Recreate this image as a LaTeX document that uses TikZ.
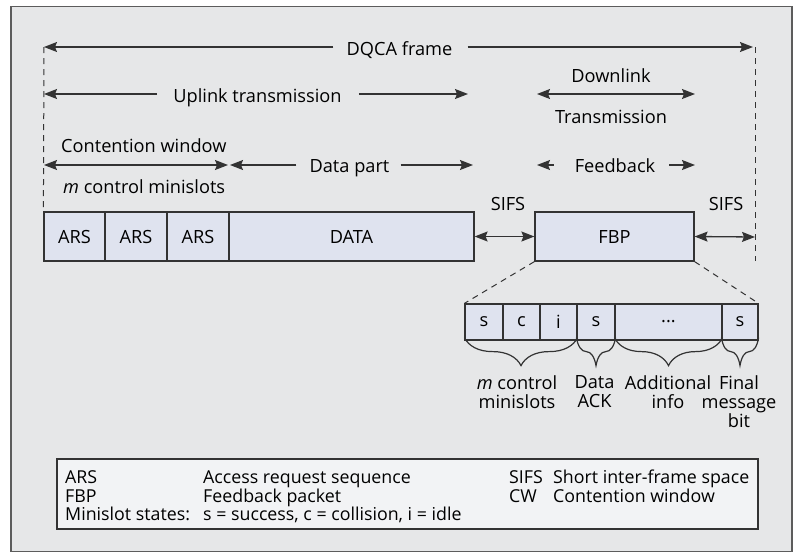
\documentclass[tikz,border=0pt]{standalone}
\usepackage{fontspec}
\setmainfont{Open Sans}
\usetikzlibrary{arrows.meta,decorations.pathreplacing}
\definecolor{bgc}{HTML}{E6E7E8}
\definecolor{boxc}{HTML}{DFE3EF}
\definecolor{legc}{HTML}{F2F3F5}
\definecolor{ink}{HTML}{333333}
\tikzset{
  lbl/.style={font=\fontsize{18.2}{19}\selectfont, inner sep=0pt, text=black, anchor=base},
  arr/.style={draw=ink, line width=1.3pt, -{Stealth[length=13pt,width=10pt,inset=2pt]}},
  darr/.style={draw=ink, line width=1.3pt, {Stealth[length=13pt,width=10pt,inset=2pt]}-{Stealth[length=13pt,width=10pt,inset=2pt]}},
  slot/.style={draw=ink, line width=1.2pt, fill=boxc, inner sep=0pt, font=\fontsize{18.2}{19}\selectfont},
  dashline/.style={draw=ink, line width=1pt, dash pattern=on 6pt off 5pt},
  brc/.style={draw=ink, line width=1.2pt, decorate, decoration={brace, amplitude=28pt, mirror}},
  blbl/.style={font=\fontsize{18.2}{19}\selectfont, inner sep=0pt, align=center, anchor=north},
  leg/.style={font=\fontsize{17.8}{18.5}\selectfont, inner sep=0pt, anchor=base west}
}
\begin{document}
\begin{tikzpicture}[x=1pt,y=-1pt]
\useasboundingbox (0,0) rectangle (797,552);
\node[draw=ink!80, line width=1.2pt, fill=bgc, minimum width=781pt, minimum height=545pt, inner sep=0pt] (frame) at (401.5,279) {};

% frame boundaries (dashed)
\coordinate (dL) at (44,47);
\coordinate (dR) at (755,47);
\coordinate (dRb) at (755,261);
\coordinate (sifsR) at (755,237);

% top row
\node[lbl] (dqca) at (399.5,55) {DQCA frame};
\draw[arr] ([xshift=-13pt]dqca.west |- dL) -- (dL);
\draw[arr] ([xshift=15pt]dqca.east |- dL) -- ([xshift=-2pt]dR);

% uplink
\coordinate (upL) at (44,94);
\coordinate (upR) at (468,94);
\node[lbl] (up) at (257.5,102) {Uplink transmission};
\draw[arr] ([xshift=-16pt]up.west |- upL) -- (upL);
\draw[arr] ([xshift=17pt]up.east |- upL) -- (upR);

% downlink
\node[lbl] (down) at (611,82) {Downlink};
\coordinate (dnL) at (537,94);
\coordinate (dnR) at (695,94);
\draw[darr] (dnL) -- (dnR);
\node[lbl] (trans) at (611,123) {Transmission};

% contention window
\node[lbl, anchor=base west] (cw) at (61,152) {Contention window};
\coordinate (cwL) at (44,165);
\coordinate (cwR) at (228,165);
\draw[darr] (cwL) -- (cwR);
\node[lbl, anchor=base west] (mcm) at (63,193) {\textit{m} control minislots};

% data part
\coordinate (dpL) at (230,165);
\coordinate (dpR) at (473,165);
\node[lbl] (dp) at (349.5,172) {Data part};
\draw[arr] ([xshift=-13pt]dp.west |- dpL) -- (dpL);
\draw[arr] ([xshift=11pt]dp.east |- dpL) -- (dpR);

% feedback
\coordinate (fbL) at (537,165);
\coordinate (fbR) at (695,165);
\node[lbl] (fb) at (615,172) {Feedback};
\draw[arr] ([xshift=-21pt]fb.west |- fbL) -- (fbL);
\draw[arr] ([xshift=14pt]fb.east |- fbL) -- (fbR);

% frame boxes
\node[slot, minimum width=61pt, minimum height=49pt] (a1) at (74.5,236.5) {ARS};
\node[slot, minimum width=62pt, minimum height=49pt] (a2) at (136,236.5) {ARS};
\node[slot, minimum width=62pt, minimum height=49pt] (a3) at (198,236.5) {ARS};
\node[slot, minimum width=245pt, minimum height=49pt] (data) at (351.5,236.5) {DATA};
\node[slot, minimum width=159pt, minimum height=49pt] (fbp) at (614.5,236.5) {FBP};

% dashed boundaries
\draw[dashline] (dL) -- (a1.north west);
\draw[dashline] (dR) -- (dRb);

% SIFS
\node[lbl] (sifs1) at (508,210) {SIFS};
\node[lbl] (sifs2) at (726,210) {SIFS};
\draw[darr] (data.east) -- (fbp.west);
\draw[darr] (fbp.east) -- (sifsR);

% small slots
\node[slot, minimum width=38pt, minimum height=36pt] (s1) at (484,322) {s};
\node[slot, minimum width=37pt, minimum height=36pt] (s2) at (521.5,322) {c};
\node[slot, minimum width=37pt, minimum height=36pt] (s3) at (558.5,322) {i};
\node[slot, minimum width=38pt, minimum height=36pt] (s4) at (596,322) {s};
\node[slot, minimum width=107pt, minimum height=36pt] (s5) at (668.5,322) {...};
\node[slot, minimum width=36pt, minimum height=36pt] (s6) at (740,322) {s};

\draw[dashline] (fbp.south west) -- (s1.north west);
\draw[dashline] (fbp.south east) -- (s6.north east);

% braces
\draw[brc] ([yshift=3pt]s1.south west) -- ([yshift=3pt]s3.south east);
\draw[brc] ([yshift=3pt]s4.south west) -- ([yshift=3pt]s4.south east);
\draw[brc] ([yshift=3pt]s5.south west) -- ([yshift=3pt]s5.south east);
\draw[brc] ([yshift=3pt]s6.south west) -- ([yshift=3pt]s6.south east);

\node[blbl] (b1) at (517,375) {\textit{m} control\\minislots};
\node[blbl] (b2) at (594.5,375) {Data\\ACK};
\node[blbl] (b3) at (668,375) {Additional\\info};
\node[blbl] (b4) at (739,375) {Final\\message\\bit};

% legend
\node[draw=ink, line width=1.1pt, fill=legc, minimum width=701pt, minimum height=70pt, inner sep=0pt] (legend) at (407.5,494) {};
\node[leg] (l1) at (65,483) {ARS};
\node[leg] (l2) at (203,483) {Access request sequence};
\node[leg] (l3) at (65,502) {FBP};
\node[leg] (l4) at (203,502) {Feedback packet};
\node[leg] (l5) at (65,520) {Minislot states:};
\node[leg] (l6) at (203,520) {s = success, c = collision, i = idle};
\node[leg] (l7) at (509,483) {SIFS};
\node[leg] (l8) at (553,483) {Short inter-frame space};
\node[leg] (l9) at (509,502) {CW};
\node[leg] (l10) at (553,502) {Contention window};
\end{tikzpicture}
\end{document}
